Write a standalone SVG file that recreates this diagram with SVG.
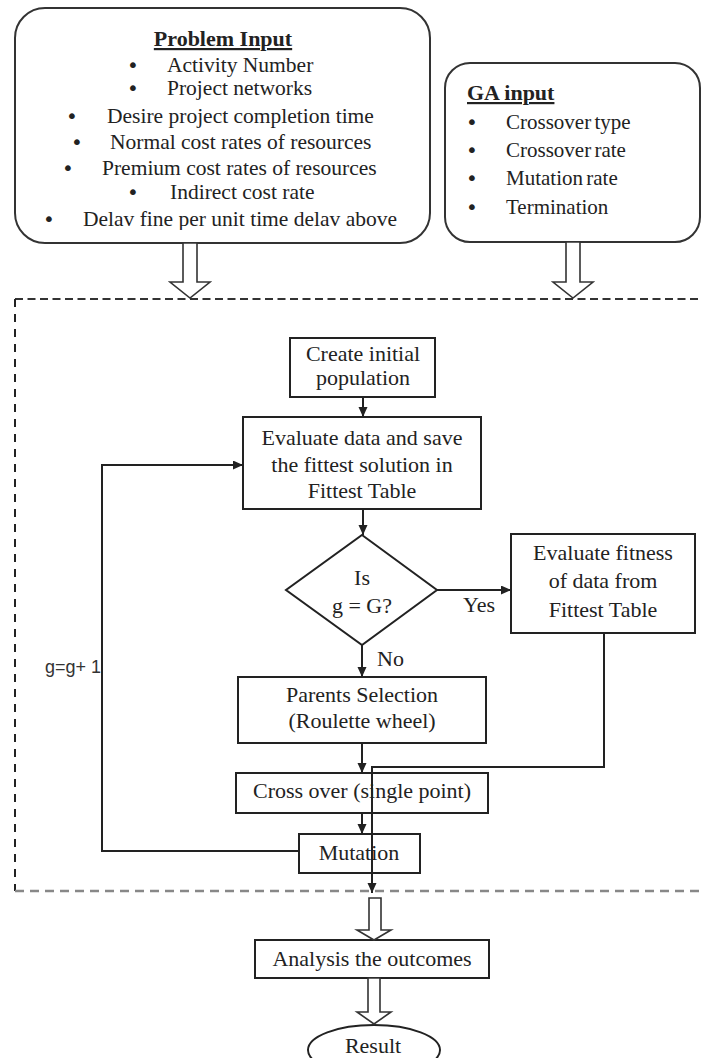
<svg xmlns="http://www.w3.org/2000/svg" width="701" height="1058" viewBox="0 0 701 1058">
<style>
.bg{fill:#fff}
.box{fill:#fff;stroke:#222;stroke-width:2}
.rbox{fill:#fff;stroke:#333;stroke-width:2}
.ln{fill:none;stroke:#222;stroke-width:2}
.hollow{fill:#fff;stroke:#333;stroke-width:1.6;stroke-linejoin:miter}
.t{font-family:"Liberation Serif","Times New Roman",serif;fill:#222}
.pi{font-size:21.5px}
.ga{font-size:21px;word-spacing:-2px}
.bul{font-family:"DejaVu Sans",sans-serif;font-size:20px}
.hd{font-size:22px;font-weight:bold;text-decoration:underline}
.ft{font-size:20px;text-anchor:middle}
.fs{font-size:20px}
.sans{font-family:"Liberation Sans",Arial,sans-serif;font-size:18px;fill:#333}
.dashTop{stroke:#333;stroke-width:2;stroke-dasharray:8 4.5;fill:none}
.dashLeft{stroke:#222;stroke-width:2;stroke-dasharray:8 7;fill:none}
.dashBot{stroke:#888;stroke-width:2.5;stroke-dasharray:9 6;fill:none}
</style>
<defs>
<marker id="ah" markerUnits="userSpaceOnUse" markerWidth="10" markerHeight="10" refX="10" refY="4.5" orient="auto">
<path d="M0,0 L10,4.5 L0,9 z" fill="#222"/>
</marker>
<clipPath id="clipPI"><rect x="0" y="0" width="440" height="230"/></clipPath>
</defs>
<rect class="bg" x="0" y="0" width="701" height="1058"/>

<g id="problem-input">
<rect class="rbox" x="15" y="8" width="415" height="235" rx="30" ry="30"/>
<text class="t hd" x="223" y="46" text-anchor="middle">Problem Input</text>
<g class="t pi">
<text class="bul" x="133" y="72" text-anchor="middle">•</text><text x="167" y="72">Activity Number</text>
<text class="bul" x="133" y="95" text-anchor="middle">•</text><text x="167" y="95">Project networks</text>
<text class="bul" x="72" y="123" text-anchor="middle">•</text><text x="107" y="123">Desire project completion time</text>
<text class="bul" x="77" y="149" text-anchor="middle">•</text><text x="110" y="149">Normal cost rates of resources</text>
<text class="bul" x="68" y="175" text-anchor="middle">•</text><text x="102" y="175">Premium cost rates of resources</text>
<text class="bul" x="133" y="199" text-anchor="middle">•</text><text x="170" y="199">Indirect cost rate</text>
<g clip-path="url(#clipPI)">
<text class="bul" x="49" y="226" text-anchor="middle">•</text><text x="83" y="226">Delav fine per unit time delav above</text>
</g>
</g>
</g>

<g id="ga-input">
<rect class="rbox" x="445" y="63" width="255" height="179" rx="25" ry="25"/>
<text class="t hd" x="467" y="100">GA input</text>
<g class="t ga">
<text class="bul" x="472" y="129" text-anchor="middle">•</text><text x="506" y="129">Crossover type</text>
<text class="bul" x="472" y="157" text-anchor="middle">•</text><text x="506" y="157">Crossover rate</text>
<text class="bul" x="472" y="185" text-anchor="middle">•</text><text x="506" y="185">Mutation rate</text>
<text class="bul" x="472" y="214" text-anchor="middle">•</text><text x="506" y="214">Termination</text>
</g>
</g>

<g id="frame">
<line class="dashTop" x1="15" y1="299" x2="701" y2="299"/>
<line class="dashLeft" x1="15" y1="299" x2="15" y2="891"/>
<line class="dashBot" x1="15" y1="891" x2="701" y2="891"/>
</g>

<g id="create">
<rect class="box" x="290" y="338" width="145" height="59"/>
<g transform="translate(363 0) scale(1.1 1)">
<text class="t ft" x="0" y="361">Create initial</text>
<text class="t ft" x="0" y="385">population</text>
</g>
</g>

<g id="evaluate">
<rect class="box" x="243" y="417" width="238" height="92"/>
<g transform="translate(362 0) scale(1.1 1)">
<text class="t ft" x="0" y="445">Evaluate data and save</text>
<text class="t ft" x="0" y="472">the fittest solution in</text>
<text class="t ft" x="0" y="498">Fittest Table</text>
</g>
</g>

<g id="decision">
<polygon class="box" points="362,535 437,590 362,645 286,590"/>
<g transform="translate(362 0) scale(1.1 1)">
<text class="t ft" x="0" y="585">Is</text>
<text class="t ft" x="0" y="613">g = G?</text>
</g>
</g>

<g id="evaluate-fitness">
<rect class="box" x="511" y="534" width="184" height="99"/>
<g transform="translate(603 0) scale(1.1 1)">
<text class="t ft" x="0" y="560">Evaluate fitness</text>
<text class="t ft" x="0" y="588">of data from</text>
<text class="t ft" x="0" y="617">Fittest Table</text>
</g>
</g>

<g id="parents">
<rect class="box" x="238" y="677" width="248" height="66"/>
<g transform="translate(362 0) scale(1.1 1)">
<text class="t ft" x="0" y="702">Parents Selection</text>
<text class="t ft" x="0" y="728">(Roulette wheel)</text>
</g>
</g>

<g id="crossover">
<rect class="box" x="236" y="773" width="252" height="40"/>
<g transform="translate(362 0) scale(1.1 1)">
<text class="t ft" x="0" y="798">Cross over (single point)</text>
</g>
</g>

<g id="mutation">
<rect class="box" x="299" y="834" width="121" height="39"/>
<g transform="translate(359 0) scale(1.1 1)">
<text class="t ft" x="0" y="860">Mutation</text>
</g>
</g>

<g id="analysis">
<rect class="box" x="255" y="940" width="234" height="38"/>
<g transform="translate(372 0) scale(1.1 1)">
<text class="t ft" x="0" y="966">Analysis the outcomes</text>
</g>
</g>

<g id="result">
<ellipse class="box" cx="374" cy="1050" rx="66" ry="25"/>
<g transform="translate(373 0) scale(1.1 1)">
<text class="t ft" x="0" y="1053">Result</text>
</g>
</g>

<g id="connectors">
<polygon class="hollow" points="183,243 197,243 197,282 210,282 190,298 170,282 183,282"/>
<polygon class="hollow" points="566,242 580,242 580,282 593,282 573,298 553,282 566,282"/>
<line class="ln" x1="363" y1="397" x2="363" y2="417" marker-end="url(#ah)"/>
<line class="ln" x1="363" y1="509" x2="363" y2="535" marker-end="url(#ah)"/>
<line class="ln" x1="437" y1="590" x2="511" y2="590" marker-end="url(#ah)"/>
<line class="ln" x1="362" y1="645" x2="362" y2="677" marker-end="url(#ah)"/>
<line class="ln" x1="362" y1="743" x2="362" y2="773" marker-end="url(#ah)"/>
<line class="ln" x1="362" y1="813" x2="362" y2="834" marker-end="url(#ah)"/>
<polyline class="ln" points="299,851 102,851 102,465 243,465" marker-end="url(#ah)"/>
<polyline class="ln" points="604,633 604,767 372,767 372,893" marker-end="url(#ah)"/>
<polygon class="hollow" points="369,898 381,898 381,930 391,930 374,940 357,930 369,930"/>
<polygon class="hollow" points="368,978 380,978 380,1012 391,1012 374,1024 357,1012 368,1012"/>
<text class="t fs" transform="translate(377 0) scale(1.1 1)" x="0" y="666">No</text>
<text class="t fs" transform="translate(463 0) scale(1.1 1)" x="0" y="612">Yes</text>
<text class="sans" x="45" y="673">g=g+ 1</text>
</g>
</svg>
